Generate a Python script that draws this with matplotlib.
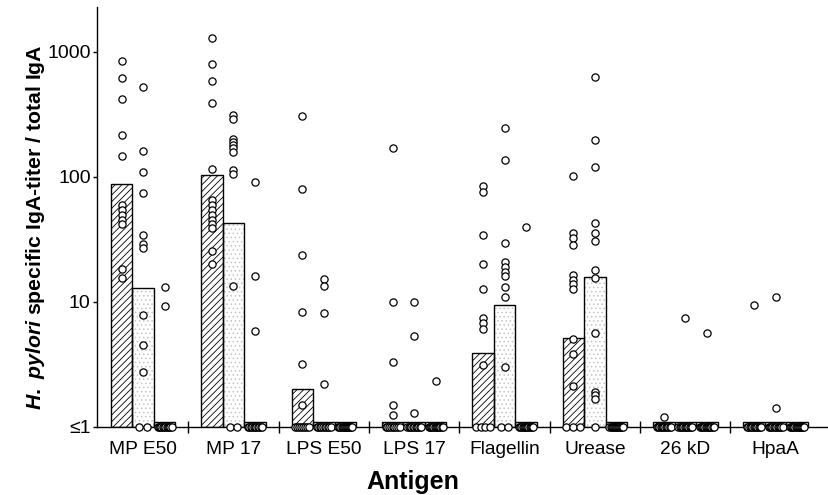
import numpy as np
import matplotlib
matplotlib.use('Agg')
import matplotlib.pyplot as plt
from matplotlib.ticker import NullLocator, FixedLocator

# ---- data ----
antigens = ['MP E50', 'MP 17', 'LPS E50', 'LPS 17', 'Flagellin', 'Urease', '26 kD', 'HpaA']

# bar heights per group (1.1 = at or below detection)
bar_hatched = [88, 103, 2.0, 1.1, 3.9, 5.1, 1.1, 1.1]
bar_dotted = [12.9, 43, 1.1, 1.1, 9.4, 15.8, 1.1, 1.1]
bar_white = [1.1, 1.1, 1.1, 1.1, 1.1, 1.1, 1.1, 1.1]

# individual values above 1
pts_hatched = [
    [847, 613, 422, 215, 146, 59, 54, 49, 45, 41.5, 18.3, 15.4],
    [1280, 797, 586, 387, 115, 65, 59, 54, 49, 45, 42, 39, 25.6, 20],
    [306, 80, 23.8, 8.3, 3.2, 1.5],
    [170, 10, 3.3, 1.5, 1.25],
    [84, 76, 34.4, 20.1, 12.6, 7.4, 6.7, 6.0, 3.1],
    [102, 35.6, 32.2, 28.3, 16.4, 14.9, 13.8, 12.6, 5.0, 3.8, 2.1],
    [1.19],
    [9.4],
]
pts_dotted = [
    [519, 161, 110, 73.6, 34.4, 29, 26.7, 7.8, 4.5, 2.75],
    [312, 290, 199, 190, 179, 169, 158, 113, 105, 13.4],
    [15.2, 13.4, 8.1, 2.2],
    [10, 5.3, 1.29],
    [244, 137, 29.3, 20.7, 18.8, 17.4, 16.1, 13.2, 11, 3.0],
    [624, 197, 120, 42.4, 35.3, 30.6, 17.9, 15.4, 5.6, 1.9, 1.79, 1.67],
    [7.45],
    [11, 1.4],
]
pts_white = [
    [13, 9.2],
    [91, 16, 5.8],
    [],
    [2.3],
    [39.4],
    [],
    [5.65],
    [],
]

# number of values <= 1 per group
zero_hatched = [0, 0, 8, 9, 4, 3, 12, 12]
zero_dotted = [2, 2, 10, 11, 2, 1, 12, 12]
zero_white = [12, 11, 14, 13, 13, 14, 13, 14]

# ---- style ----
plt.rcParams['font.family'] = ['Liberation Sans', 'DejaVu Sans']
plt.rcParams['mathtext.fontset'] = 'custom'
plt.rcParams['mathtext.it'] = 'Liberation Sans:italic:bold'
plt.rcParams['mathtext.rm'] = 'Liberation Sans:bold'
plt.rcParams['mathtext.bf'] = 'Liberation Sans:bold'
plt.rcParams['hatch.linewidth'] = 0.6

W, H = 829, 495
fig = plt.figure(figsize=(W / 100, H / 100), dpi=100)
ax = fig.add_axes([97 / W, (H - 426.7) / H, (W - 97) / W, (426.7 - 7.3) / H])

ax.set_yscale('log')
ax.set_ylim(1, 2265)
ax.set_xlim(-0.51, 7.59)

width = 0.238
offsets = [-width, 0, width]
x = np.arange(len(antigens))

series = [
    (bar_hatched, pts_hatched, zero_hatched, '/////', 'black'),
    (bar_dotted, pts_dotted, zero_dotted, '....', '#c4c4c4'),
    (bar_white, pts_white, zero_white, None, 'black'),
]

for k, (heights, pts, zeros, hatch, hcol) in enumerate(series):
    xs = x + offsets[k]
    h = np.array(heights) - 1
    if hatch:
        ax.bar(xs, h, width, bottom=1, color='white', edgecolor=hcol,
               hatch=hatch, linewidth=0, zorder=2)
    else:
        ax.bar(xs, h, width, bottom=1, color='white', linewidth=0, zorder=2)
    ax.bar(xs, h, width, bottom=1, facecolor='none', edgecolor='black',
           linewidth=1.0, zorder=3)

    for i in range(len(antigens)):
        vals = pts[i]
        if vals:
            ax.plot([xs[i]] * len(vals), vals, 'o', ms=5.2, mfc='white',
                    mec='black', mew=0.9, zorder=4, clip_on=False)
        n = zeros[i]
        if n > 0:
            step = 7.5 / 90.4
            if n > 1:
                step = min(step, 0.155 / (n - 1))
            zx = xs[i] + (np.arange(n) - (n - 1) / 2) * step
            ax.plot(zx, [1] * n, 'o', ms=5.2, mfc='white', mec='black',
                    mew=0.9, zorder=5, clip_on=False)

# axes styling
for s in ['top', 'right']:
    ax.spines[s].set_visible(False)
ax.spines['left'].set_linewidth(1.0)
ax.spines['bottom'].set_linewidth(1.0)

ax.yaxis.set_major_locator(FixedLocator([1, 10, 100, 1000]))
ax.yaxis.set_minor_locator(NullLocator())
ax.set_yticklabels(['\u22641', '10', '100', '1000'])
ax.tick_params(axis='y', which='major', length=3, width=1, pad=1.5, labelsize=14)

ax.set_xticks(x)
ax.set_xticklabels(antigens)
ax.xaxis.set_minor_locator(FixedLocator(np.arange(0.5, 7, 1)))
ax.tick_params(axis='x', which='major', length=0, pad=10, labelsize=13.8)
ax.tick_params(axis='x', which='minor', length=9, width=1, direction='inout')

fig.text(36 / W, 1 - 227 / H, r'$\mathit{H.\ pylori}$ specific IgA-titer / total IgA',
         rotation=90, ha='center', va='center', fontsize=15.3, fontweight='bold')
fig.text(413 / W, (H - 489) / H, 'Antigen', ha='center', va='baseline',
         fontsize=18, fontweight='bold')

fig.savefig('out.png', dpi=100)
